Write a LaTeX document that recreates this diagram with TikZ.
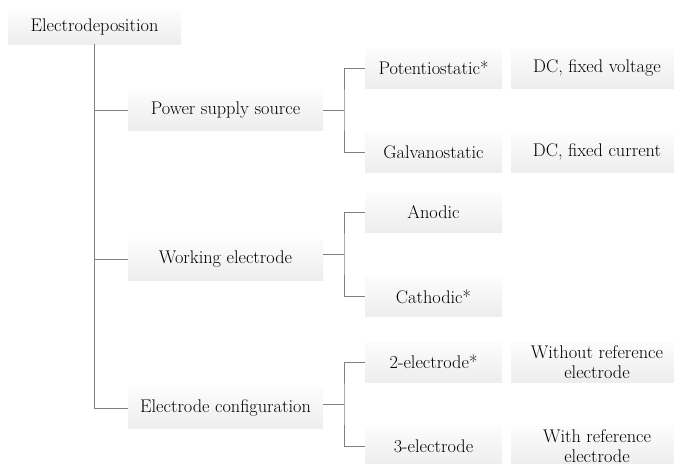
\documentclass[tikz,border=0pt]{standalone}
\begin{document}
\begin{tikzpicture}[x=1pt,y=-1pt,
  box/.style={shape=rectangle, inner sep=0pt, draw=none,
    top color=black!1, bottom color=black!7,
    font=\fontsize{18.3}{20.5}\selectfont, align=center},
  rootbox/.style={box, minimum width=173pt, minimum height=34pt},
  catbox/.style={box, minimum width=195pt, minimum height=41pt},
  optbox/.style={box, minimum width=137pt, minimum height=40pt},
  notebox/.style={box, minimum width=172pt, minimum height=40pt},
  link/.style={draw=black!50, line width=0.9pt}]
\useasboundingbox (0,0) rectangle (674,463);

% root
\node[rootbox] (root) at (94.5,27) {Electrodeposition};

% categories
\node[catbox] (pss) at (225.5,110) {Power supply source};
\node[catbox] (we)  at (225.5,259.5) {Working electrode};
\node[catbox] (ec)  at (225.5,408) {Electrode configuration};

% options
\node[optbox] (pot) at (433.5,68)  {Potentiostatic*};
\node[optbox] (gal) at (433.5,152) {Galvanostatic};
\node[optbox] (ano) at (433.5,212) {Anodic};
\node[optbox] (cat) at (433.5,296.5) {Cathodic*};
\node[optbox] (two) at (433.5,362) {2-electrode*};
\node[optbox] (thr) at (433.5,446) {3-electrode};

% notes
\node[notebox] (dcv) at (597,68)  {DC, fixed voltage};
\node[notebox] (dcc) at (597,152) {DC, fixed current};
\node[notebox] (wor) at (597,362) {Without reference\\electrode};
\node[notebox] (wir) at (597,446) {With reference\\electrode};

% junction points of the second-level brackets
\coordinate (j1) at (344,110);
\coordinate (j2) at (344,254);
\coordinate (j3) at (344,404);

% trunk from the root
\draw[link] (root.south) |- (ec.west);
\draw[link] (root.south |- pss) -- (pss.west);
\draw[link] (root.south |- we) -- (we.west);

% brackets
\draw[link] (pss.east |- j1) -- (j1);
\draw[link] (pot.west) -| (j1) |- (gal.west);
\draw[link] (we.east |- j2) -- (j2);
\draw[link] (ano.west) -| (j2) |- (cat.west);
\draw[link] (ec.east |- j3) -- (j3);
\draw[link] (two.west) -| (j3) |- (thr.west);
\end{tikzpicture}
\end{document}
